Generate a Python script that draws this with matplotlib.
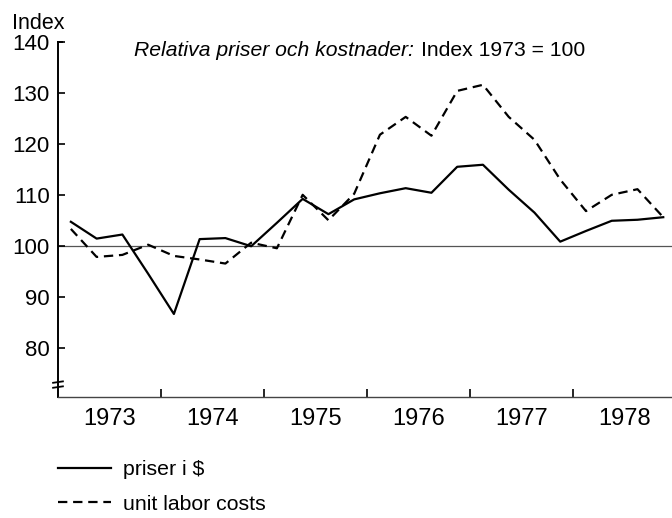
import matplotlib
matplotlib.use('Agg')
from matplotlib import pyplot as plt
from matplotlib.lines import Line2D

plt.rcParams['font.family'] = ['Liberation Sans', 'DejaVu Sans']

# quarterly observations 1973Q1 .. 1978Q4
quarters = [1973 + i * 0.25 + 0.125 for i in range(24)]

priser = [104.7, 101.4, 102.2, 94.5, 86.6, 101.3,
          101.5, 99.9, 104.5, 109.2, 106.2, 109.1,
          110.3, 111.3, 110.4, 115.5, 115.9, 111.0,
          106.5, 100.8, 102.9, 104.9, 105.1, 105.6]

labor_costs = [103.3, 97.8, 98.2, 100.2, 98.0, 97.3,
               96.5, 100.6, 99.5, 110.0, 105.0, 110.2,
               121.8, 125.3, 121.6, 130.4, 131.6, 125.3,
               120.8, 113.0, 106.8, 110.0, 111.1, 105.6]

years = [1973, 1974, 1975, 1976, 1977, 1978]
y_ticks = [80, 90, 100, 110, 120, 130, 140]

fig = plt.figure(figsize=(6.72, 5.18), dpi=100)
ax = fig.add_axes([0.0863, 0.2336, 0.9137, 0.6853])

ax.axhline(100, color='#555555', lw=0.9, zorder=1)
l1, = ax.plot(quarters, priser, color='black', lw=1.6, label='priser i $', zorder=3)
l2, = ax.plot(quarters, labor_costs, color='black', lw=1.6, linestyle=(0, (4.2, 2.6)),
              label='unit labor costs', zorder=3)

ax.set_xlim(1973, 1978.96)
ax.set_ylim(70.3, 140)

ax.set_yticks(y_ticks)
ax.set_yticklabels([str(v) for v in y_ticks])
ax.tick_params(axis='y', direction='in', length=5, width=1.2, pad=6, labelsize=16)

# year boundaries as ticks, year names centred between them
ax.set_xticks(years[1:])
ax.set_xticklabels([])
ax.set_xticks([y + 0.5 for y in years], minor=True)
ax.set_xticklabels([str(y) for y in years], minor=True)
ax.tick_params(axis='x', which='major', direction='in', length=6, width=1.2)
ax.tick_params(axis='x', which='minor', length=0, pad=8, labelsize=17)

for s in ['top', 'right']:
    ax.spines[s].set_visible(False)
ax.spines['left'].set_linewidth(1.4)
ax.spines['bottom'].set_linewidth(1.0)
ax.spines['bottom'].set_color('#444444')

# small hook at top of the y axis
ax.add_line(Line2D([0, 0.006], [1, 1], transform=ax.transAxes, color='black',
                   lw=1.4, clip_on=False))

# axis break marks
for yb in [0.042, 0.028]:
    ax.add_line(Line2D([-0.008, 0.008], [yb - 0.002, yb + 0.002], transform=ax.transAxes,
                       color='black', lw=1.3, clip_on=False))

fig.text(0.018, 0.955, 'Index', fontsize=15.5, va='center', ha='left')

t1 = fig.text(0.2, 0.902, 'Relativa priser och kostnader:', fontsize=15.2, style='italic',
              va='center', ha='left')
ax.annotate('Index 1973 = 100', xy=(1, 0.5), xycoords=t1, xytext=(5, 0),
            textcoords='offset points', fontsize=15.2, va='center', ha='left')

ax.legend(handles=[l1, l2], loc='upper left', bbox_to_anchor=(0.086, 0.112),
          bbox_transform=fig.transFigure, frameon=False, fontsize=15.3,
          handlelength=2.5, handletextpad=0.55, borderpad=0, borderaxespad=0,
          labelspacing=0.75)

plt.savefig('out.png', dpi=100)
